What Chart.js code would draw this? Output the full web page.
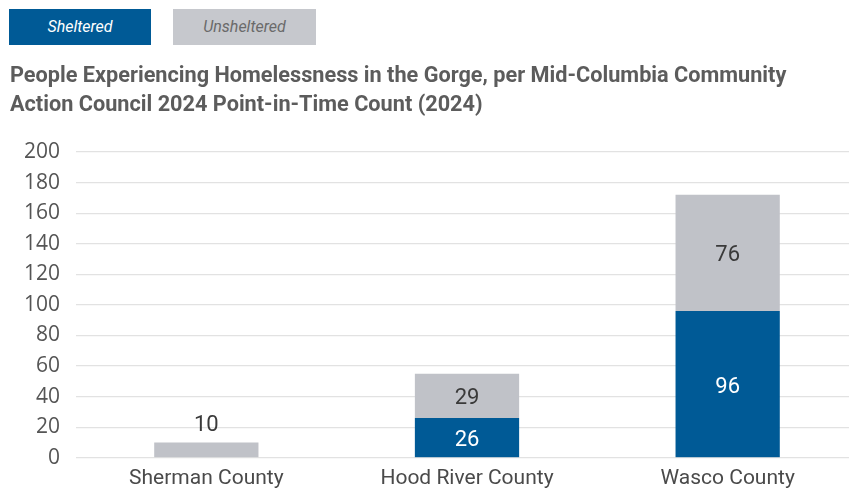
<!DOCTYPE html>
<html>
<head>
<meta charset="utf-8">
<script src="https://cdn.jsdelivr.net/npm/chart.js@4/dist/chart.umd.min.js"></script>
<style>
  html, body { margin: 0; padding: 0; background: #fff; }
  #wrap { position: relative; width: 849px; height: 491px; overflow: hidden; }
  #chartBox { position: absolute; left: 0; top: 0; width: 858px; height: 499px; }
  .leg { position: absolute; top: 9px; height: 36px; line-height: 36px; text-align: center;
         font-family: Roboto, "Open Sans", sans-serif; font-style: italic; font-size: 16px; }
  #legS { left: 9px; width: 142px; background: #005a96; color: #ffffff; }
  #legU { left: 173px; width: 143px; background: #c6c8cd; color: #6a6a6a; }
  #title { position: absolute; left: 10px; top: 60px; width: 845px; font-family: Roboto, sans-serif;
           font-weight: bold; font-size: 21.7px; line-height: 29px; color: #5c5c5c; white-space: nowrap; }
</style>
</head>
<body>
<div id="wrap">
  <div id="chartBox"><canvas id="c"></canvas></div>
  <div class="leg" id="legS">Sheltered</div>
  <div class="leg" id="legU">Unsheltered</div>
  <div id="title">People Experiencing Homelessness in the Gorge, per Mid-Columbia Community<br>Action Council 2024 Point-in-Time Count (2024)</div>
</div>
<script>
const categories = ["Sherman County", "Hood River County", "Wasco County"];
const sheltered = [0, 26, 96];
const unsheltered = [10, 29, 76];
const yTicks = [0, 20, 40, 60, 80, 100, 120, 140, 160, 180, 200];

const BLUE = "#005a96";
const GRAY = "#c0c2c8";

const labelPlugin = {
  id: "barLabels",
  afterDatasetsDraw(chart) {
    const ctx = chart.ctx;
    ctx.save();
    ctx.font = "22px Roboto, 'Open Sans', sans-serif";
    ctx.textAlign = "center";
    ctx.textBaseline = "middle";
    chart.data.datasets.forEach((ds, di) => {
      const meta = chart.getDatasetMeta(di);
      meta.data.forEach((bar, i) => {
        const v = ds.data[i];
        if (!v) return;
        const top = Math.min(bar.y, bar.base);
        const h = Math.abs(bar.base - bar.y);
        if (h < 24) {
          ctx.fillStyle = "#3a3a3a";
          ctx.fillText(String(v), bar.x, top - 17);
        } else {
          ctx.fillStyle = di === 0 ? "#ffffff" : "#3a3a3a";
          ctx.fillText(String(v), bar.x, top + h / 2 + 3);
        }
      });
    });
    ctx.restore();
  }
};

new Chart(document.getElementById("c"), {
  type: "bar",
  data: {
    labels: categories,
    datasets: [
      { label: "Sheltered", data: sheltered, backgroundColor: BLUE, borderWidth: 0,
        barPercentage: 0.4, categoryPercentage: 1.0 },
      { label: "Unsheltered", data: unsheltered, backgroundColor: GRAY, borderWidth: 0,
        barPercentage: 0.4, categoryPercentage: 1.0 }
    ]
  },
  options: {
    responsive: true,
    maintainAspectRatio: false,
    animation: false,
    layout: { padding: { top: 152, bottom: 0, left: 0, right: 0 } },
    plugins: { legend: { display: false }, title: { display: false }, tooltip: { enabled: false } },
    scales: {
      x: {
        stacked: true,
        grid: { display: false, drawTicks: false },
        border: { display: false },
        ticks: { color: "#4a4a4a", font: { family: "Roboto, sans-serif", size: 21 }, padding: 8 }
      },
      y: {
        stacked: true,
        min: 0, max: 200,
        afterFit(s) { s.width = 76; },
        afterBuildTicks(s) { s.ticks = yTicks.map(v => ({ value: v })); },
        grid: { color: "#e2e2e2", lineWidth: 1.2, drawTicks: false },
        border: { display: false },
        ticks: { color: "#555555", font: { family: "'Open Sans', sans-serif", size: 21 }, padding: 16 }
      }
    }
  },
  plugins: [labelPlugin]
});
</script>
</body>
</html>
